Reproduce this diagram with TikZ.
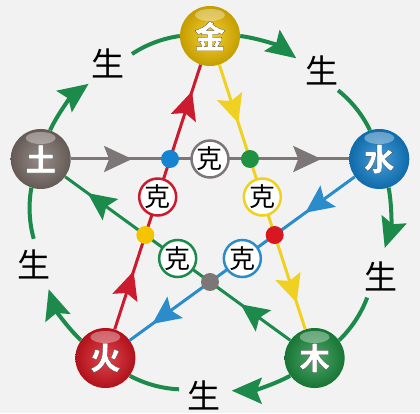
\documentclass[tikz,border=0pt]{standalone}
\usepackage{fontspec}
\usepackage{xcolor}
\usepackage{tikz}
\usetikzlibrary{arrows.meta,decorations.markings,calc}
\newfontfamily\cjk{Noto Sans CJK SC}
\newfontfamily\cjkout{Noto Sans CJK SC}[BoldFeatures={FakeBold=0.6}]
\newcommand{\outlined}[1]{\special{pdf:bc [1 1 1] [0.15 0.15 0.15]}#1\special{pdf:ec}}

\definecolor{bgc}{HTML}{F2F2F2}
\definecolor{shengc}{HTML}{1C8A4A}
\definecolor{grayc}{HTML}{7D7676}
\definecolor{redc}{HTML}{CC1A2E}
\definecolor{yellowc}{HTML}{F0D020}
\definecolor{bluec}{HTML}{2A8CCB}
\definecolor{greenc}{HTML}{1C8A4A}
\definecolor{jinc}{HTML}{F5C400}
\definecolor{tuc}{HTML}{7E716B}
\definecolor{shuic}{HTML}{1585D2}
\definecolor{muc}{HTML}{1E9242}
\definecolor{huoc}{HTML}{DA1620}

\begin{document}
\begin{tikzpicture}[
  x=1pt, y=1pt,
  element/.style={circle, minimum size=60pt, inner sep=0pt, shading=radial,
    inner color=#1!80!white, outer color=#1!80!black,
    path picture={\fill[white, opacity=0.35]
      ($(path picture bounding box.north)+(0,-9pt)$) ellipse (15pt and 6pt);},
    text=white, font=\cjkout\bfseries\fontsize{31}{31}\selectfont},
  sheng/.style={draw=shengc, line width=4pt},
  shengtip/.style={sheng, -{Stealth[length=30pt,width=26pt,inset=5pt]}},
  shengtext/.style={inner sep=0pt, font=\cjk\fontsize{33}{33}\selectfont},
  kearrow/.style={draw=#1, line width=3pt, postaction={decorate},
    decoration={markings,
      mark=at position 0.22 with {\arrow{Stealth[length=28pt,width=26pt,inset=5pt]}},
      mark=at position 0.9 with {\arrow{Stealth[length=28pt,width=26pt,inset=5pt]}}}},
  dot/.style={circle, fill=#1, minimum size=18pt, inner sep=0pt},
  kebox/.style={circle, draw=#1, fill=white, line width=2.5pt, minimum size=37pt,
    inner sep=0pt, font=\cjk\fontsize{26}{26}\selectfont}
]
  \useasboundingbox (-210,-199) rectangle (210,214);
  \fill[bgc] (-210,-199) rectangle (210,214);

  % the five elements
  \node[element=jinc] (jin) at (90:178) {\outlined{金}};
  \node[element=shuic] (shui) at (18:178) {\outlined{水}};
  \node[element=muc] (mu) at (-54:178) {\outlined{木}};
  \node[element=huoc] (huo) at (-126:178) {\outlined{火}};
  \node[element=tuc] (tu) at (162:178) {\outlined{土}};

  % sheng cycle
  \coordinate (tipA) at (133:178);  \coordinate (gapA) at (116:178);
  \coordinate (tipB) at (61:178);   \coordinate (gapB) at (44:178);
  \coordinate (tipC) at (-11:178);  \coordinate (gapC) at (-28:178);
  \coordinate (tipD) at (-83:178);  \coordinate (gapD) at (-100:178);
  \coordinate (tipE) at (-155:178); \coordinate (gapE) at (-172:178);

  \draw[shengtip] (tu) to[bend left=14.5, looseness=0.85] (tipA);
  \draw[sheng] (gapA) to[bend left=13, looseness=0.85] (jin);
  \draw[shengtip] (jin) to[bend left=14.5, looseness=0.85] (tipB);
  \draw[sheng] (gapB) to[bend left=13, looseness=0.85] (shui);
  \draw[shengtip] (shui) to[bend left=14.5, looseness=0.85] (tipC);
  \draw[sheng] (gapC) to[bend left=13, looseness=0.85] (mu);
  \draw[shengtip] (mu) to[bend left=14.5, looseness=0.85] (tipD);
  \draw[sheng] (gapD) to[bend left=13, looseness=0.85] (huo);
  \draw[shengtip] (huo) to[bend left=14.5, looseness=0.85] (tipE);
  \draw[sheng] (gapE) to[bend left=13, looseness=0.85] (tu);

  \node[shengtext] (shengA) at (124:182) {生};
  \node[shengtext] (shengB) at (52:182) {生};
  \node[shengtext] (shengC) at (-20:182) {生};
  \node[shengtext] (shengD) at (-92:182) {生};
  \node[shengtext] (shengE) at (-164:183) {生};

  % ke star
  \draw[kearrow=grayc] (tu) -- (shui);
  \draw[kearrow=bluec] (shui) -- (huo);
  \draw[kearrow=redc] (huo) -- (jin);
  \draw[kearrow=yellowc] (jin) -- (mu);
  \draw[kearrow=greenc] (mu) -- (tu);

  \node[dot=shuic] (dtl) at (intersection of tu--shui and huo--jin) {};
  \node[dot=muc] (dtr) at (intersection of tu--shui and jin--mu) {};
  \node[dot=huoc] (dr) at (intersection of jin--mu and shui--huo) {};
  \node[dot=grayc] (db) at (intersection of shui--huo and mu--tu) {};
  \node[dot=jinc] (dl) at (intersection of mu--tu and huo--jin) {};

  \node[kebox=grayc] (keT) at ($(dtl)!0.5!(dtr)$) {克};
  \node[kebox=redc] (keL) at ($(dtl)!0.5!(dl)$) {克};
  \node[kebox=yellowc] (keR) at ($(dtr)!0.5!(dr)$) {克};
  \node[kebox=greenc] (keBL) at ($(dl)!0.5!(db)$) {克};
  \node[kebox=bluec] (keBR) at ($(dr)!0.5!(db)$) {克};
\end{tikzpicture}
\end{document}
